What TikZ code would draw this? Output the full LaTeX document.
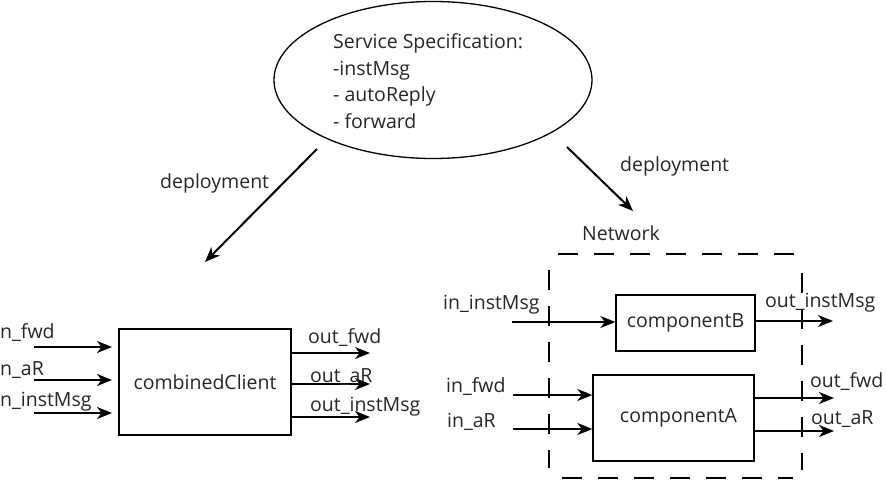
\documentclass[tikz,border=0pt]{standalone}
\usepackage{fontspec}
\setmainfont{Open Sans}
\usetikzlibrary{shapes.geometric,arrows.meta}
\begin{document}
\begin{tikzpicture}[x=1pt,y=-1pt,
  every node/.style={font=\fontsize{19.5}{26.5}\selectfont, inner sep=0pt, text=black!85},
  lbl/.style={anchor=west},
  box/.style={draw, line width=1.3pt},
  flow/.style={line width=2pt, -{Stealth[length=15pt,width=12pt,inset=4.5pt]}},
  netline/.style={line width=1.3pt, dash pattern=on 20pt off 16pt}]
\useasboundingbox (0,0) rectangle (887,495);

% service specification
\node[draw, ellipse, line width=1.3pt, minimum width=318, minimum height=157] (spec) at (433,80) {};
\node[anchor=west, align=left] (spectext) at (333,81) {Service Specification:\\-instMsg\\- autoReply\\- forward};

% deployment arrows
\coordinate (dls) at (317,149);
\coordinate (dle) at (205,262);
\coordinate (drs) at (567,147);
\coordinate (dre) at (633,211);
\draw[flow] (dls) -- (dle);
\draw[flow] (drs) -- (dre);
\node[lbl] (deplL) at (160,183) {deployment};
\node[lbl] (deplR) at (620,166) {deployment};

% combined client
\node[box, minimum width=172, minimum height=106] (cc) at (205,382) {combinedClient};
\coordinate (i1) at (34,347);  \coordinate (i1e) at (112,347);
\coordinate (i2) at (34,380);  \coordinate (i2e) at (112,380);
\coordinate (i3) at (34,413);  \coordinate (i3e) at (112,413);
\draw[flow] (i1) -- (i1e);
\draw[flow] (i2) -- (i2e);
\draw[flow] (i3) -- (i3e);
\node[lbl] (li1) at (0,333) {n\_fwd};
\node[lbl] (li2) at (0,370) {n\_aR};
\node[lbl] (li3) at (0,402) {n\_instMsg};
\coordinate (o1) at (370,353);
\coordinate (o2) at (370,384);
\coordinate (o3) at (370,417);
\draw[flow] (cc.east |- o1) -- (o1);
\draw[flow] (cc.east |- o2) -- (o2);
\draw[flow] (cc.east |- o3) -- (o3);
\node[lbl] (lo1) at (308,338) {out\_fwd};
\node[lbl] (lo2) at (310,377) {out\_aR};
\node[lbl] (lo3) at (310,407) {out\_instMsg};

% network
\node[lbl] (netlbl) at (582,233) {Network};
\draw[netline] (558,254) -- (800,254);
\draw[netline] (549,270) -- (549,468);
\draw[netline] (802,273) -- (802,470);
\draw[netline] (562,478) -- (793,478);

\node[box, minimum width=139, minimum height=56] (cb) at (685.5,323) {componentB};
\node[box, minimum width=161, minimum height=86] (ca) at (673.5,418) {\hspace*{10pt}componentA};

\coordinate (bi) at (512,322);
\draw[flow] (bi) -- (cb.west |- bi);
\node[lbl] (lbi) at (443,305) {in\_instMsg};
\coordinate (bo) at (833,321);
\draw[flow] (cb.east |- bo) -- (bo);
\node[lbl] (lbo) at (765,303) {out\_instMsg};

\coordinate (ai1) at (513,395);
\coordinate (ai2) at (513,429);
\draw[flow] (ai1) -- (ca.west |- ai1);
\draw[flow] (ai2) -- (ca.west |- ai2);
\node[lbl] (lai1) at (446,387) {in\_fwd};
\node[lbl] (lai2) at (447,422) {in\_aR};
\coordinate (ao1) at (834,398);
\coordinate (ao2) at (834,431);
\draw[flow] (ca.east |- ao1) -- (ao1);
\draw[flow] (ca.east |- ao2) -- (ao2);
\node[lbl] (lao1) at (810,382) {out\_fwd};
\node[lbl] (lao2) at (811,419) {out\_aR};
\end{tikzpicture}
\end{document}
